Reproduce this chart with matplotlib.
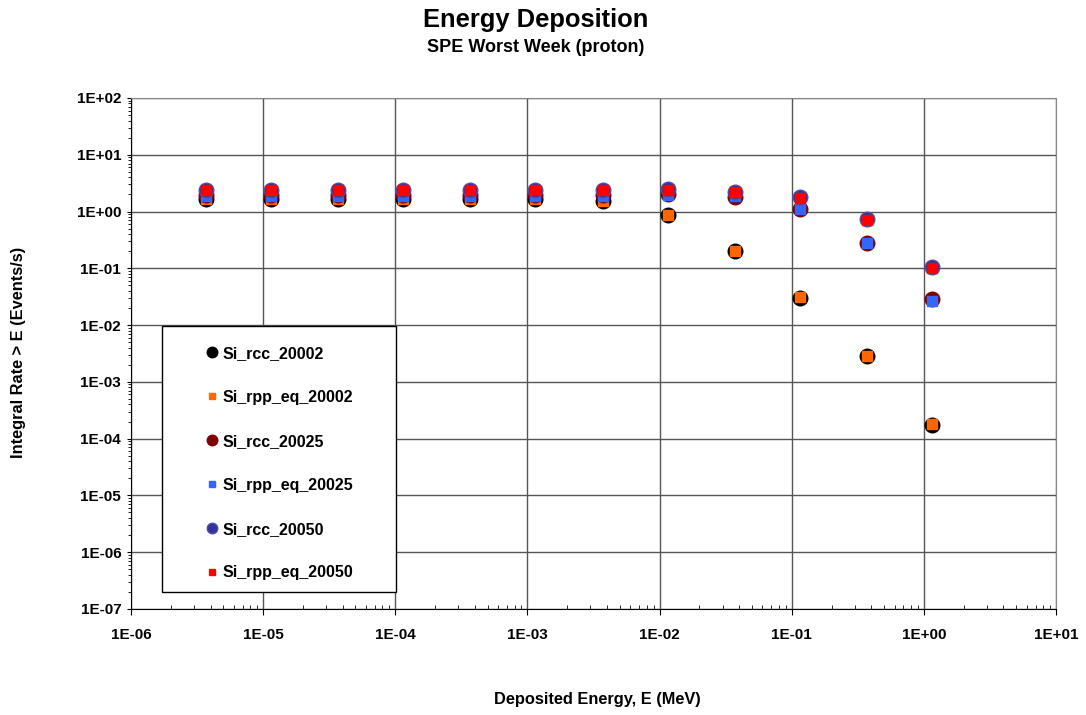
import matplotlib
matplotlib.use("Agg")
import matplotlib.pyplot as plt
from matplotlib.patches import Rectangle
from matplotlib.ticker import LogLocator, NullFormatter, FixedLocator

plt.rcParams['font.family'] = ['Liberation Sans', 'DejaVu Sans']
plt.rcParams['font.weight'] = 'bold'

# ----------------------------
# data
# ----------------------------
energy = [3.7e-6, 1.15e-5, 3.7e-5, 1.15e-4, 3.7e-4, 1.15e-3, 3.7e-3,
          1.15e-2, 3.7e-2, 1.15e-1, 3.7e-1, 1.15]

rcc_20002 = [1.65, 1.65, 1.65, 1.65, 1.65, 1.63, 1.52, 0.87, 0.20, 0.030, 0.0029, 1.75e-4]
rpp_20002 = [1.68, 1.68, 1.68, 1.68, 1.68, 1.66, 1.55, 0.88, 0.20, 0.031, 0.0029, 1.8e-4]
rcc_20025 = [1.95, 1.95, 1.95, 1.95, 1.95, 1.95, 1.95, 2.0, 1.83, 1.10, 0.28, 0.029]
rpp_20025 = [1.9, 1.9, 1.9, 1.9, 1.9, 1.9, 1.9, 1.95, 1.9, 1.10, 0.28, 0.027]
rcc_20050 = [2.35, 2.35, 2.35, 2.35, 2.35, 2.35, 2.35, 2.45, 2.25, 1.83, 0.74, 0.105]
rpp_20050 = [2.35, 2.35, 2.35, 2.35, 2.35, 2.35, 2.35, 2.4, 2.2, 1.75, 0.72, 0.10]

labels = ["Si_rcc_20002", "Si_rpp_eq_20002", "Si_rcc_20025",
          "Si_rpp_eq_20025", "Si_rcc_20050", "Si_rpp_eq_20050"]

x_ticks = [1e-6, 1e-5, 1e-4, 1e-3, 1e-2, 1e-1, 1e0, 1e1]
x_ticklabels = ["1E-06", "1E-05", "1E-04", "1E-03", "1E-02", "1E-01", "1E+00", "1E+01"]
y_ticks = [1e-7, 1e-6, 1e-5, 1e-4, 1e-3, 1e-2, 1e-1, 1e0, 1e1, 1e2]
y_ticklabels = ["1E-07", "1E-06", "1E-05", "1E-04", "1E-03", "1E-02", "1E-01", "1E+00", "1E+01", "1E+02"]

# ----------------------------
# plot
# ----------------------------
fig = plt.figure(figsize=(10.86, 7.15), dpi=100)
ax = fig.add_axes([0.1206, 0.1483, 0.8518, 0.7147])

ax.plot(energy, rcc_20002, 'o', ms=10.5, mfc='black', mec='black', mew=1, label=labels[0], zorder=3)
ax.plot(energy, rpp_20002, 's', ms=6.5, mfc='#FF6600', mec='#FF6600', label=labels[1], zorder=4)
ax.plot(energy, rcc_20025, 'o', ms=10.5, mfc='#800000', mec='#800000', label=labels[2], zorder=5)
ax.plot(energy, rpp_20025, 's', ms=6.5, mfc='#3366FF', mec='#3366FF', label=labels[3], zorder=6)
ax.plot(energy, rcc_20050, 'o', ms=10.5, mfc='#333399', mec='#4d4db3', label=labels[4], zorder=7)
ax.plot(energy, rpp_20050, 's', ms=6.5, mfc='#FF0000', mec='#FF0000', label=labels[5], zorder=8)

ax.set_xscale('log')
ax.set_yscale('log')
ax.set_xlim(1e-6, 1e1)
ax.set_ylim(1e-7, 1e2)

ax.xaxis.set_major_locator(FixedLocator(x_ticks))
ax.set_xticklabels(x_ticklabels)
ax.yaxis.set_major_locator(FixedLocator(y_ticks))
ax.set_yticklabels(y_ticklabels)
ax.xaxis.set_minor_locator(LogLocator(base=10, subs=range(2, 10), numticks=20))
ax.yaxis.set_minor_locator(LogLocator(base=10, subs=range(2, 10), numticks=20))
ax.xaxis.set_minor_formatter(NullFormatter())
ax.yaxis.set_minor_formatter(NullFormatter())

ax.tick_params(axis='x', which='major', direction='out', length=4, labelsize=11, pad=10)
ax.tick_params(axis='x', which='minor', direction='in', length=3)
ax.tick_params(axis='y', which='major', direction='out', length=3, labelsize=11, pad=4)
ax.tick_params(axis='y', which='minor', direction='out', length=2)
for lab in ax.get_xticklabels() + ax.get_yticklabels():
    lab.set_fontweight('bold')

ax.grid(True, which='major', color='#555555', linewidth=1)
for side in ['top', 'right']:
    ax.spines[side].set_color('#888888')

fig.text(0.5497, 0.021, "Deposited Energy, E (MeV)", ha='center', va='center',
         fontsize=11.8, fontweight='bold')
fig.text(0.0166, 0.5077, "Integral Rate > E (Events/s)", ha='center', va='center',
         rotation=90, fontsize=11.8, fontweight='bold')

fig.text(0.493, 0.972, "Energy Deposition", ha='center', va='center', fontsize=18.4, fontweight='bold')
fig.text(0.4935, 0.933, "SPE Worst Week (proton)", ha='center', va='center', fontsize=13, fontweight='bold')

# legend box drawn by hand (wide excel style), entries placed inside
ax.add_patch(Rectangle((0.0335, 0.0333), 0.253, 0.5207, transform=ax.transAxes,
                       facecolor='white', edgecolor='black', linewidth=1, zorder=9))
leg = ax.legend(loc='upper left', bbox_to_anchor=(0.0822, 0.5147), fontsize=11.5,
                frameon=False, labelspacing=1.81, handlelength=0.6, handletextpad=0.35,
                borderpad=0, borderaxespad=0, markerscale=0.72)
leg.set_zorder(10)
for t in leg.get_texts():
    t.set_fontweight('bold')

fig.savefig("out.png", dpi=100)
